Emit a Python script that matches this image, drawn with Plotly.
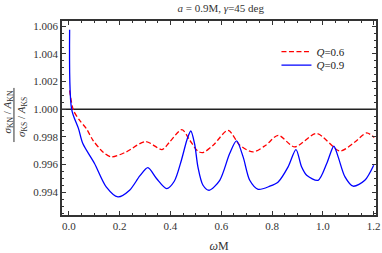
import plotly.graph_objects as go

# data
x_q09 = [0.003, 0.011, 0.038, 0.055, 0.101, 0.147, 0.193, 0.239, 0.28, 0.311, 0.345, 0.385,
         0.415, 0.443, 0.465, 0.480, 0.495, 0.508, 0.528, 0.552, 0.594, 0.633, 0.660, 0.686,
         0.712, 0.745, 0.791, 0.824, 0.863, 0.894, 0.916, 0.936, 0.981, 1.015, 1.043, 1.060,
         1.087, 1.119, 1.165, 1.200]
y_q09 = [1.00575, 1.0000, 0.9986, 0.99752, 0.99608, 0.99439, 0.99367, 0.99415, 0.9952, 0.99578,
         0.9950, 0.99427, 0.9948, 0.99632, 0.9978, 0.99843, 0.9975, 0.99584, 0.99451, 0.99415,
         0.99487, 0.9968, 0.99771, 0.99656, 0.99487, 0.99422, 0.99444, 0.99475, 0.99584, 0.99709,
         0.99584, 0.99523, 0.99487, 0.99608, 0.99733, 0.99656, 0.99511, 0.99444, 0.99487, 0.99596]

x_q06 = [0.003, 0.018, 0.042, 0.069, 0.095, 0.134, 0.167, 0.226, 0.302, 0.367, 0.397, 0.445,
         0.476, 0.508, 0.528, 0.568, 0.627, 0.673, 0.725, 0.775, 0.824, 0.889, 0.975, 1.067,
         1.126, 1.172, 1.202]
y_q06 = [1.00137, 0.99993, 0.99921, 0.9986, 0.99776, 0.99692, 0.99656, 0.99692, 0.99767, 0.99709,
         0.99764, 0.99853, 0.99776, 0.99697, 0.99687, 0.9974, 0.99848, 0.9974, 0.99692, 0.9974,
         0.99812, 0.99728, 0.99825, 0.99699, 0.99764, 0.99829, 0.99796]

ref_level = 1.0
x_ticks = [0.0, 0.2, 0.4, 0.6, 0.8, 1.0, 1.2]
y_ticks = [0.994, 0.996, 0.998, 1.000, 1.002, 1.004, 1.006]

FONT = "Liberation Serif, Times New Roman, serif"
AX = "#333333"
TXT = "#333333"

fig = go.Figure()
fig.add_trace(go.Scatter(x=x_q06, y=y_q06, mode="lines", name="<i>Q</i>=0.6", legend="legend",
                         line=dict(color="#ff0000", width=1.3, dash="5px,2.5px", shape="spline", smoothing=0.8)))
fig.add_trace(go.Scatter(x=x_q09, y=y_q09, mode="lines", name="<i>Q</i>=0.9", legend="legend2",
                         line=dict(color="#0000ff", width=1.3, shape="spline", smoothing=0.8)))
fig.add_hline(y=ref_level, line=dict(color="#222222", width=1.5), layer="below")

axcommon = dict(showgrid=False, zeroline=False, showline=True, linecolor=AX, linewidth=1.5,
                mirror="allticks", ticks="inside", ticklen=4, tickwidth=1, tickcolor=AX,
                automargin=False,
                tickfont=dict(family=FONT, size=11, color=TXT))
fig.update_xaxes(range=[-0.027, 1.209], tickvals=x_ticks, ticktext=[f"{v:.1f}" for v in x_ticks],
                 minor=dict(dtick=0.05, tick0=0, ticks="inside", ticklen=2, tickcolor=AX, showgrid=False),
                 title=dict(text="<i>ω</i>M", font=dict(family=FONT, size=12, color=TXT), standoff=11),
                 **axcommon)
fig.update_yaxes(range=[0.99236, 1.00638], tickvals=y_ticks, ticktext=[f"{v:.3f}" for v in y_ticks],
                 minor=dict(dtick=0.0005, tick0=0.994, ticks="inside", ticklen=2, tickcolor=AX, showgrid=False),
                 **axcommon)

fig.add_annotation(text="<i>σ</i><sub>KN</sub> / <i>A</i><sub>KN</sub>", xref="paper", yref="paper",
                   x=0, y=0.5, xshift=-54.5, yshift=6, textangle=-90, showarrow=False,
                   xanchor="center", yanchor="middle",
                   font=dict(family=FONT, size=11, color=TXT))
fig.add_annotation(text="<i>σ</i><sub>KS</sub> / <i>A</i><sub>KS</sub>", xref="paper", yref="paper",
                   x=0, y=0.5, xshift=-40, yshift=1, textangle=-90, showarrow=False,
                   xanchor="center", yanchor="middle",
                   font=dict(family=FONT, size=11, color=TXT))
fig.add_shape(type="line", xref="paper", yref="paper", x0=-0.153, x1=-0.153, y0=0.376, y1=0.655,
              line=dict(color="#333333", width=1))

legfont = dict(family=FONT, size=11, color="#222222")
fig.update_layout(
    width=382, height=253, margin=dict(l=62, r=6, t=21, b=38, autoexpand=False),
    paper_bgcolor="white", plot_bgcolor="white",
    title=dict(text="<i>a</i> = 0.9M, <i>γ</i>=45 deg", x=0.578, xanchor="center", y=0.968, yanchor="middle",
               yref="container", font=dict(family=FONT, size=11, color=TXT)),
    legend=dict(x=0.683, y=0.842, xanchor="left", yanchor="middle", bgcolor="rgba(0,0,0,0)", font=legfont),
    legend2=dict(x=0.683, y=0.773, xanchor="left", yanchor="middle", bgcolor="rgba(0,0,0,0)", font=legfont),
    showlegend=True,
)
fig.write_html("out.html", config={"displayModeBar": False},
               post_script="document.body.style.margin='0';document.body.style.overflow='hidden';")
